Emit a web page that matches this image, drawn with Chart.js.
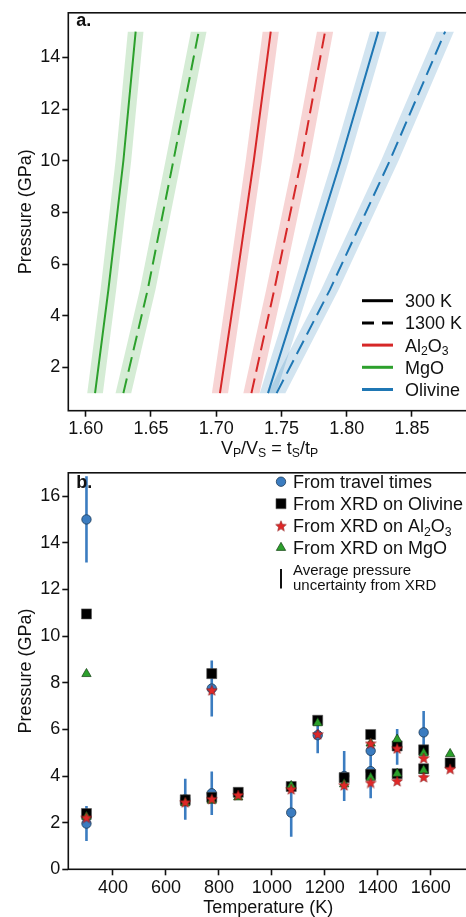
<!DOCTYPE html>
<html>
<head>
<meta charset="utf-8">
<script src="https://cdn.jsdelivr.net/npm/chart.js@4.4.1/dist/chart.umd.min.js"></script>
<style>
    body { margin: 0; background: #fff; width: 466px; height: 917px; overflow: hidden; position: relative; }
    #chartA { position: absolute; left: 0; top: 0; }
    #chartB { position: absolute; left: 0; top: 460px; }
</style>
</head>
<body>
<canvas id="chartA" width="476" height="460"></canvas>
<canvas id="chartB" width="476" height="457"></canvas>
<script>
// Panel a: Vp/Vs ratio vs pressure
const pressureGPa = [1, 5, 10, 15];
const mgo300 = [1.6072, 1.6174, 1.6289, 1.6383];
const mgo1300 = [1.6289, 1.6475, 1.6672, 1.6866];
const al2o3300 = [1.7029, 1.7146, 1.7288, 1.7418];
const al2o31300 = [1.7270, 1.7445, 1.7651, 1.7834];
const olivine300 = [1.7397, 1.7647, 1.7954, 1.8242];
const olivine1300 = [1.7463, 1.7871, 1.8330, 1.8754];
// half-width of the shaded uncertainty band, same order as above
const ratioUncertainty = [0.0060, 0.0060, 0.0062, 0.0062, 0.0063, 0.0067];
const ratioTicks = [1.60, 1.65, 1.70, 1.75, 1.80, 1.85];
const pressureTicksA = [2, 4, 6, 8, 10, 12, 14];

// Panel b: pressure vs temperature
const travelT = [300, 300, 673, 773, 773, 1073, 1173, 1273, 1373, 1373, 1473, 1573];
const travelP = [15.0, 1.96, 3.0, 7.75, 3.26, 2.43, 5.75, 4.0, 5.08, 4.21, 5.25, 5.87];
const travelErr = [1.85, 0.75, 0.88, 1.2, 0.93, 1.03, 0.77, 1.07, 0.78, 1.16, 0.77, 0.92];
const olivT = [300, 300, 673, 773, 773, 873, 1073, 1173, 1273, 1373, 1373, 1473, 1473, 1573, 1573, 1673];
const olivP = [10.95, 2.39, 2.98, 8.39, 3.09, 3.30, 3.55, 6.39, 3.93, 5.78, 4.07, 5.29, 4.10, 5.12, 4.31, 4.56];
const al2T = [300, 673, 773, 773, 873, 1073, 1173, 1273, 1373, 1373, 1473, 1473, 1573, 1573, 1673];
const al2P = [2.22, 2.88, 7.68, 3.02, 3.19, 3.44, 5.80, 3.61, 5.40, 3.72, 5.19, 3.79, 4.77, 3.96, 4.31];
const mgoT = [300, 300, 673, 773, 873, 1073, 1173, 1273, 1373, 1373, 1473, 1473, 1573, 1573, 1673];
const mgoP = [8.38, 2.25, 2.84, 2.95, 3.09, 3.58, 6.27, 3.65, 5.40, 3.93, 5.57, 4.10, 4.98, 4.24, 4.95];
const tempTicks = [400, 600, 800, 1000, 1200, 1400, 1600];
const pressureTicksB = [0, 2, 4, 6, 8, 10, 12, 14, 16];

const FONT = "'Liberation Sans', Arial, sans-serif";
const GREEN = "#2ca02c", RED = "#d62728", BLUE = "#1f77b4";
const PT_BLUE = "#3b7cc0";

Chart.defaults.font.family = FONT;
Chart.defaults.color = "#111";

// Helpers
function drawRich(ctx, parts, x, y, size, align) {
    const sub = size * 0.68;
    let w = 0;
    parts.forEach(p => {
        ctx.font = (p[1] ? sub : size) + "px " + FONT;
        w += ctx.measureText(p[0]).width;
    });
    let cx = align === "center" ? x - w / 2 : x;
    ctx.textAlign = "left";
    ctx.textBaseline = "alphabetic";
    parts.forEach(p => {
        ctx.font = (p[1] ? sub : size) + "px " + FONT;
        ctx.fillText(p[0], cx, p[1] ? y + size * 0.22 : y);
        cx += ctx.measureText(p[0]).width;
    });
}

function drawFrame(chart, label, labelY) {
    const ctx = chart.ctx;
    const a = chart.chartArea;
    ctx.save();
    ctx.strokeStyle = "#111";
    ctx.lineWidth = 1.6;
    ctx.strokeRect(a.left, a.top, a.right - a.left, a.bottom - a.top);
    ctx.fillStyle = "#111";
    ctx.font = "bold 18px " + FONT;
    ctx.textAlign = "left";
    ctx.textBaseline = "alphabetic";
    ctx.fillText(label, a.left + 8, labelY);
    // y title
    ctx.translate(26, (a.top + a.bottom) / 2);
    ctx.rotate(-Math.PI / 2);
    ctx.font = "18px " + FONT;
    ctx.textAlign = "center";
    ctx.textBaseline = "middle";
    ctx.fillText("Pressure (GPa)", 0, 0);
    ctx.restore();
}

function fixedTicks(values) {
    return scale => { scale.ticks = values.map(v => ({ value: v })); };
}

function makeStar(size) {
    const c = document.createElement("canvas");
    c.width = c.height = size;
    const g = c.getContext("2d");
    g.beginPath();
    for (let i = 0; i < 10; i++) {
        const r = i % 2 ? size * 0.21 : size * 0.47;
        const ang = -Math.PI / 2 + i * Math.PI / 5;
        g.lineTo(size / 2 + r * Math.cos(ang), size / 2 + 0.6 + r * Math.sin(ang));
    }
    g.closePath();
    g.fillStyle = "#e02828";
    g.fill();
    g.strokeStyle = "#7a1515";
    g.lineWidth = 0.5;
    g.stroke();
    return c;
}
const starImg = makeStar(12);

// Panel a
const seriesA = [
    { vals: mgo300, color: GREEN, band: "rgba(44,160,44,0.2)", dash: [] },
    { vals: mgo1300, color: GREEN, band: "rgba(44,160,44,0.2)", dash: [15, 7] },
    { vals: al2o3300, color: RED, band: "rgba(214,39,40,0.2)", dash: [] },
    { vals: al2o31300, color: RED, band: "rgba(214,39,40,0.2)", dash: [15, 7] },
    { vals: olivine300, color: BLUE, band: "rgba(31,119,180,0.2)", dash: [] },
    { vals: olivine1300, color: BLUE, band: "rgba(31,119,180,0.2)", dash: [15, 7] }
];

const datasetsA = [];
seriesA.forEach((s, k) => {
    const err = ratioUncertainty[k];
    const left = s.vals.map((v, i) => ({ x: v - err, y: pressureGPa[i] }));
    const right = s.vals.map((v, i) => ({ x: v + err, y: pressureGPa[i] })).reverse();
    datasetsA.push({
        data: left.concat(right),
        borderColor: "transparent", borderWidth: 0,
        backgroundColor: s.band, fill: "shape",
        pointRadius: 0, tension: 0, order: 10
    });
    datasetsA.push({
        data: s.vals.map((v, i) => ({ x: v, y: pressureGPa[i] })),
        borderColor: s.color, borderWidth: 2, borderDash: s.dash,
        pointRadius: 0, fill: false, tension: 0, order: 1
    });
});

const legendA = [
    { parts: [["300 K"]], color: "#000", dash: [] },
    { parts: [["1300 K"]], color: "#000", dash: [12, 8] },
    { parts: [["Al"], ["2", 1], ["O"], ["3", 1]], color: RED, dash: [] },
    { parts: [["MgO"]], color: GREEN, dash: [] },
    { parts: [["Olivine"]], color: BLUE, dash: [] }
];

const decorA = {
    id: "decorA",
    afterDraw(chart) {
        const ctx = chart.ctx;
        drawFrame(chart, "a.", 26);
        ctx.save();
        ctx.fillStyle = "#111";
        drawRich(ctx, [["V"], ["P", 1], ["/V"], ["S", 1], [" = t"], ["S", 1], ["/t"], ["P", 1]],
            (chart.chartArea.left + chart.chartArea.right) / 2, 453.5, 18, "center");
        legendA.forEach((it, i) => {
            const y = 300.7 + i * 22.2;
            ctx.beginPath();
            ctx.setLineDash(it.dash);
            ctx.strokeStyle = it.color;
            ctx.lineWidth = 3;
            ctx.moveTo(362, y);
            ctx.lineTo(393, y);
            ctx.stroke();
            ctx.setLineDash([]);
            ctx.fillStyle = "#111";
            drawRich(ctx, it.parts, 405, y + 6.4, 18, "left");
        });
        ctx.restore();
    }
};

new Chart(document.getElementById("chartA"), {
    type: "line",
    data: { datasets: datasetsA },
    options: {
        responsive: false,
        animation: false,
        events: [],
        layout: { padding: { top: 7.5, right: 5.3, left: 0, bottom: 0 } },
        plugins: { legend: { display: false }, tooltip: { enabled: false } },
        scales: {
            x: {
                type: "linear", min: 1.5867, max: 1.895,
                afterBuildTicks: fixedTicks(ratioTicks),
                afterFit: s => { s.height = 460 - 410.7; },
                grid: { drawOnChartArea: false, tickLength: 6, tickWidth: 1.6, tickColor: "#111" },
                border: { display: false },
                ticks: { font: { size: 18 }, color: "#111", padding: 2, maxRotation: 0, callback: v => v.toFixed(2) }
            },
            y: {
                type: "linear", min: 0.32, max: 15.73,
                afterBuildTicks: fixedTicks(pressureTicksA),
                afterFit: s => { s.width = 68.3; },
                grid: { drawOnChartArea: false, tickLength: 6, tickWidth: 1.6, tickColor: "#111" },
                border: { display: false },
                ticks: { font: { size: 18 }, color: "#111", padding: 2 }
            }
        }
    },
    plugins: [decorA]
});

// Panel b
const errData = [];
travelT.forEach((t, i) => {
    errData.push({ x: t, y: travelP[i] - travelErr[i] });
    errData.push({ x: t, y: travelP[i] + travelErr[i] });
    errData.push({ x: t, y: null });
});

const datasetsB = [
    { data: errData, showLine: true, spanGaps: false, borderColor: PT_BLUE, borderWidth: 2.6, pointRadius: 0, order: 5 },
    {
        data: travelT.map((t, i) => ({ x: t, y: travelP[i] })), showLine: false,
        pointStyle: "circle", pointRadius: 4.7, backgroundColor: PT_BLUE, borderColor: "#1d3b58", borderWidth: 0.8, order: 4
    },
    {
        data: olivT.map((t, i) => ({ x: t, y: olivP[i] })), showLine: false,
        pointStyle: "rect", pointRadius: 7.1, backgroundColor: "#000", borderColor: "#555", borderWidth: 0.6, order: 3
    },
    {
        data: mgoT.map((t, i) => ({ x: t, y: mgoP[i] })), showLine: false,
        pointStyle: "triangle", pointRadius: 5.4, backgroundColor: GREEN, borderColor: "#123d12", borderWidth: 0.7, order: 2
    },
    {
        data: al2T.map((t, i) => ({ x: t, y: al2P[i] })), showLine: false,
        pointStyle: starImg, pointRadius: 5, order: 1
    }
];

const legendB = [
    { parts: [["From travel times"]], style: "circle", r: 4.7, fill: PT_BLUE, edge: "#1d3b58", bw: 0.8 },
    { parts: [["From XRD on Olivine"]], style: "rect", r: 7.1, fill: "#000", edge: "#555", bw: 0.6 },
    { parts: [["From XRD on Al"], ["2", 1], ["O"], ["3", 1]], style: starImg, r: 5, fill: RED, edge: RED, bw: 0 },
    { parts: [["From XRD on MgO"]], style: "triangle", r: 5.4, fill: GREEN, edge: "#123d12", bw: 0.7 }
];

const decorB = {
    id: "decorB",
    afterDraw(chart) {
        const ctx = chart.ctx;
        drawFrame(chart, "b.", 28.3);
        ctx.save();
        ctx.fillStyle = "#111";
        ctx.font = "18px " + FONT;
        ctx.textAlign = "center";
        ctx.textBaseline = "alphabetic";
        ctx.fillText("Temperature (K)", (chart.chartArea.left + chart.chartArea.right) / 2, 452.5);
        legendB.forEach((it, i) => {
            const y = 21.7 + i * 22;
            ctx.fillStyle = it.fill;
            ctx.strokeStyle = it.edge;
            ctx.lineWidth = it.bw || 1;
            Chart.helpers.drawPoint(ctx, { pointStyle: it.style, radius: it.r, borderWidth: it.bw, rotation: 0 }, 281, y);
            ctx.fillStyle = "#111";
            drawRich(ctx, it.parts, 293, y + 6.4, 18, "left");
        });
        ctx.fillRect(280, 109, 2, 19.5);
        ctx.font = "15px " + FONT;
        ctx.textAlign = "left";
        ctx.fillText("Average pressure", 293, 115.3);
        ctx.fillText("uncertainty from XRD", 293, 129.8);
        ctx.restore();
    }
};

new Chart(document.getElementById("chartB"), {
    type: "line",
    data: { datasets: datasetsB },
    options: {
        responsive: false,
        animation: false,
        events: [],
        layout: { padding: { top: 6.7, right: 4.2, left: 0, bottom: 0 } },
        plugins: { legend: { display: false }, tooltip: { enabled: false } },
        scales: {
            x: {
                type: "linear", min: 231.4, max: 1741.6,
                afterBuildTicks: fixedTicks(tempTicks),
                afterFit: s => { s.height = 457 - 409.3; },
                grid: { drawOnChartArea: false, tickLength: 6, tickWidth: 1.6, tickColor: "#111" },
                border: { display: false },
                ticks: { font: { size: 18 }, color: "#111", padding: 2, maxRotation: 0, callback: v => String(v) }
            },
            y: {
                type: "linear", min: 0, max: 17,
                afterBuildTicks: fixedTicks(pressureTicksB),
                afterFit: s => { s.width = 68.3; },
                grid: { drawOnChartArea: false, tickLength: 6, tickWidth: 1.6, tickColor: "#111" },
                border: { display: false },
                ticks: { font: { size: 18 }, color: "#111", padding: 2 }
            }
        }
    },
    plugins: [decorB]
});
</script>
</body>
</html>
